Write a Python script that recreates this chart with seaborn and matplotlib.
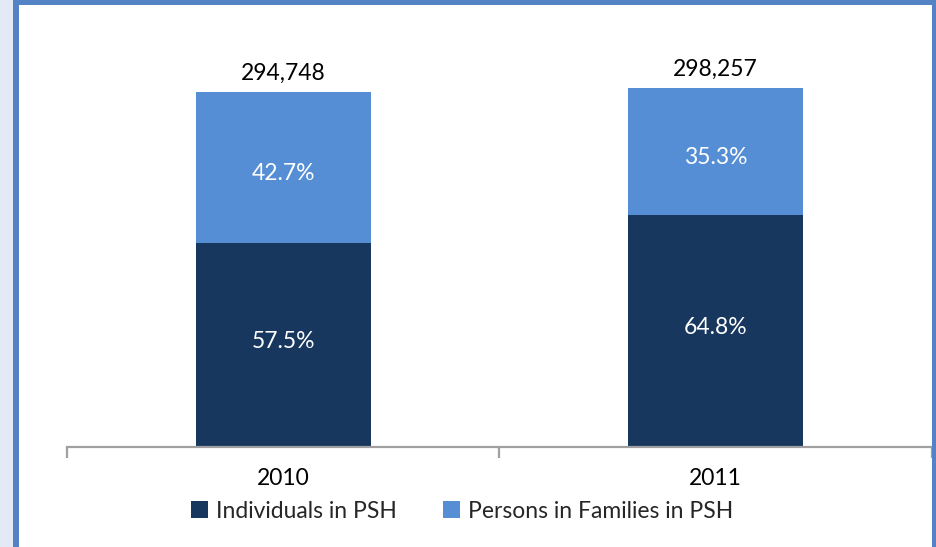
import matplotlib
matplotlib.use("Agg")
import matplotlib.pyplot as plt
from matplotlib.patches import Rectangle, Patch
import seaborn as sns
import pandas as pd

years = ["2010", "2011"]
totals = [294748, 298257]
pct_individuals = [57.5, 64.8]
pct_families = [42.7, 35.3]
series_names = ["Individuals in PSH", "Persons in Families in PSH"]
colors = ["#17375e", "#558ed5"]

sns.set_theme(style="white")
plt.rcParams["font.family"] = ["Lato", "DejaVu Sans"]

individuals = [t * p / 100 for t, p in zip(totals, pct_individuals)]
families = [t * p / 100 for t, p in zip(totals, pct_families)]
df = pd.DataFrame({
    "year": years,
    "individuals": individuals,
    "stack_top": [i + f for i, f in zip(individuals, families)],
})

W, H = 937, 547
fig = plt.figure(figsize=(W / 100, H / 100), dpi=100, facecolor="white")

# frame: pale strip on the left and a blue border around the chart area
fig.patches.append(Rectangle((0, 0), 14 / W, 1, transform=fig.transFigure,
                             facecolor="#e3eaf5", edgecolor="none", zorder=0))
fig.patches.append(Rectangle((13 / W, 0), 6 / W, 1, transform=fig.transFigure,
                             facecolor="#5383c4", edgecolor="none", zorder=1))
fig.patches.append(Rectangle((13 / W, 1 - 5 / H), 1, 5 / H, transform=fig.transFigure,
                             facecolor="#5383c4", edgecolor="none", zorder=1))
fig.patches.append(Rectangle((932.5 / W, 0), 5 / W, 1, transform=fig.transFigure,
                             facecolor="#5383c4", edgecolor="none", zorder=1))

ax_left, ax_right = 67 / W, 932 / W
ax_bottom = 1 - 447 / H
ax_top = 1 - 26.6 / H
ax = fig.add_axes([ax_left, ax_bottom, ax_right - ax_left, ax_top - ax_bottom])
ax.set_facecolor("none")

sns.barplot(data=df, x="year", y="stack_top", color=colors[1], width=0.405,
            saturation=1, ax=ax, linewidth=0)
sns.barplot(data=df, x="year", y="individuals", color=colors[0], width=0.405,
            saturation=1, ax=ax, linewidth=0)

ax.set_xlim(-0.5, 1.5)
ax.set_ylim(0, 350000)
ax.set_xlabel("")
ax.set_ylabel("")
ax.set_yticks([])
for s in ["top", "right", "left"]:
    ax.spines[s].set_visible(False)
ax.spines["bottom"].set_color("#a0a0a0")
ax.spines["bottom"].set_linewidth(1.6)

# category boundary ticks
ax.set_xticks([-0.5, 0.5, 1.5], minor=True)
ax.tick_params(axis="x", which="minor", length=8, width=1.6, color="#a0a0a0",
               direction="out", bottom=True)
ax.tick_params(axis="x", which="major", length=0, labelsize=16.5, pad=15,
               labelcolor="black")

FS = 16.5
for i in range(len(years)):
    ind, fam = individuals[i], families[i]
    ax.text(i, ind / 2 + 3000, f"{pct_individuals[i]:.1f}%", ha="center", va="center",
            color="white", fontsize=FS)
    ax.text(i, ind + fam / 2 - 5000, f"{pct_families[i]:.1f}%", ha="center", va="center",
            color="white", fontsize=FS)
    ax.text(i, ind + fam + 7000, f"{totals[i]:,}", ha="center", va="bottom",
            color="black", fontsize=FS)

handles = [Patch(facecolor=c, edgecolor="none") for c in colors]
fig.legend(handles, series_names, loc="center", bbox_to_anchor=(462 / W, 1 - 511 / H),
           ncol=2, frameon=False, fontsize=FS, handlelength=0.75, handleheight=0.75,
           handletextpad=0.35, columnspacing=2.0)

fig.savefig("out.png", dpi=100, facecolor=fig.get_facecolor())
